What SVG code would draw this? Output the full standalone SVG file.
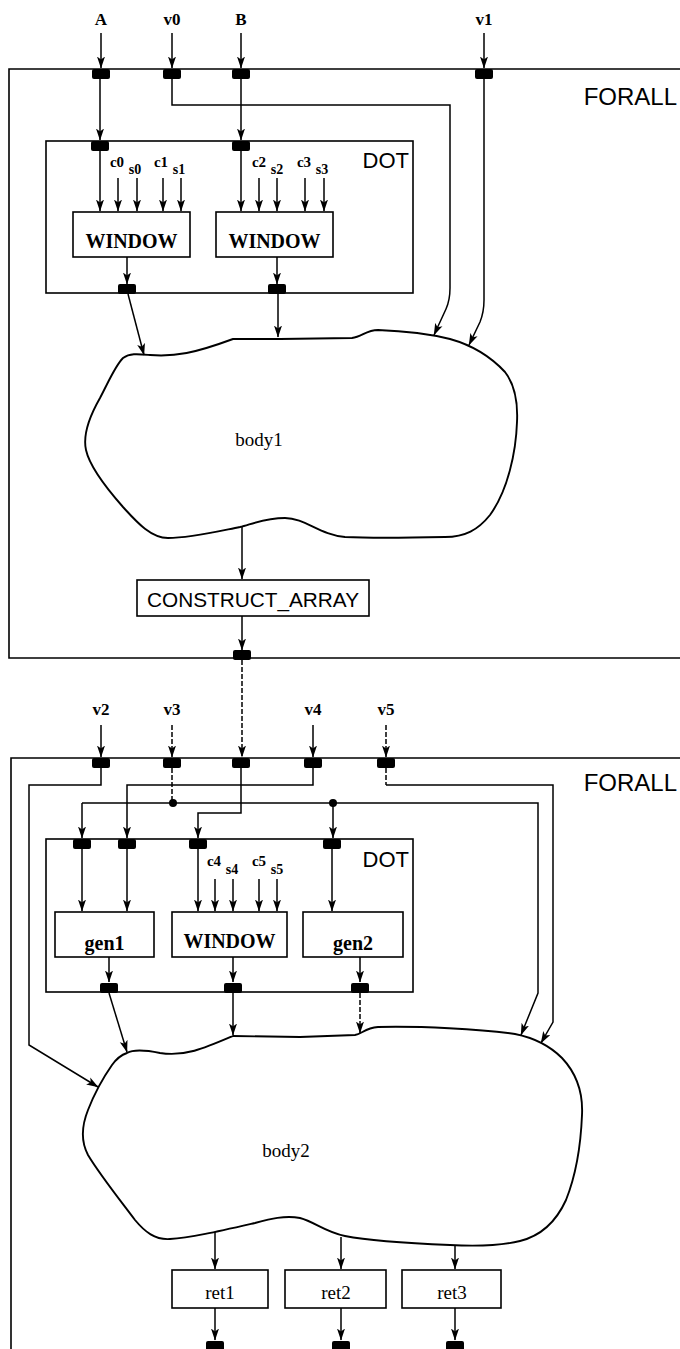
<svg xmlns="http://www.w3.org/2000/svg" width="680" height="1349" viewBox="0 0 680 1349">
<defs>
<marker id="ah" markerWidth="12" markerHeight="9" refX="11.5" refY="4.5" orient="auto" markerUnits="userSpaceOnUse">
<path d="M0,0.5 L12,4.5 L0,8.5 L3,4.5 Z" fill="#000"/>
</marker>
</defs>
<style>
.box{fill:#fff;stroke:#000;stroke-width:1.6}
.frame{fill:none;stroke:#000;stroke-width:1.6}
.port{fill:#000}
.c{fill:none;stroke:#000;stroke-width:1.5}
.a{marker-end:url(#ah)}
.d{stroke-dasharray:5 2}
.blob{fill:#fff;stroke:#000;stroke-width:1.9}
.kw{font-family:"Liberation Sans",Arial,sans-serif;fill:#000}
.in{font-family:"Liberation Serif","Times New Roman",serif;font-weight:bold;font-size:17px;text-anchor:middle}
.sm{font-family:"Liberation Serif","Times New Roman",serif;font-weight:bold;font-size:15px;text-anchor:middle}
.sub{font-family:"Liberation Serif","Times New Roman",serif;font-weight:bold;font-size:14px;text-anchor:middle}
.bt{font-family:"Liberation Serif","Times New Roman",serif;font-weight:bold;font-size:20px;text-anchor:middle}
.rt{font-family:"Liberation Serif","Times New Roman",serif;font-size:19px;text-anchor:middle}
</style>

<g id="forall1">
<path class="frame" d="M690,69 H9 V658 H690"/>
<text class="kw" x="677" y="105" font-size="24" text-anchor="end">FORALL</text>
<rect class="port" x="92" y="69" width="18" height="10" rx="2"/>
<rect class="port" x="163" y="69" width="18" height="10" rx="2"/>
<rect class="port" x="232" y="69" width="18" height="10" rx="2"/>
<rect class="port" x="475" y="69" width="18" height="10" rx="2"/>
<rect class="port" x="233" y="650" width="18" height="10" rx="2"/>
</g>

<g id="inputs1">
<text class="in" x="101" y="25">A</text>
<text class="in" x="172" y="25">v0</text>
<text class="in" x="241" y="25">B</text>
<text class="in" x="484" y="25">v1</text>
</g>

<g id="dot1">
<rect class="box" x="46" y="141" width="367" height="152"/>
<text class="kw" x="409" y="168" font-size="22" text-anchor="end">DOT</text>
<rect class="port" x="91" y="141" width="18" height="10" rx="2"/>
<rect class="port" x="232" y="141" width="18" height="10" rx="2"/>
<rect class="port" x="118" y="284" width="18" height="10" rx="2"/>
<rect class="port" x="268" y="284" width="18" height="10" rx="2"/>
<text class="sm" x="117" y="167">c0</text>
<text class="sub" x="135" y="174">s0</text>
<text class="sm" x="161" y="167">c1</text>
<text class="sub" x="179" y="174">s1</text>
<text class="sm" x="259" y="167">c2</text>
<text class="sub" x="277" y="174">s2</text>
<text class="sm" x="304" y="167">c3</text>
<text class="sub" x="322" y="174">s3</text>
</g>

<g id="window1">
<rect class="box" x="73" y="212" width="117" height="45"/>
<text class="bt" x="131.5" y="248">WINDOW</text>
</g>
<g id="window2">
<rect class="box" x="216" y="212" width="117" height="45"/>
<text class="bt" x="274.5" y="248">WINDOW</text>
</g>

<g id="body1">
<path class="blob" d="M123,358 C130,353 138,354 150,355 C175,357 195,353 233,339 L280,339 L352,338 C362,337 366,330 378,330 C405,331 430,334 450,339 C475,346 492,358 505,372 C515,385 518,402 517,422 C516,452 508,490 490,515 C478,530 465,537 445,537 C400,538 365,538 345,537 C320,535 305,518 285,518 C265,518 252,524 240,527 C215,532 190,538 168,538 C150,538 135,520 123,507 C108,490 90,468 86,450 C82,432 92,412 100,398 C108,383 115,366 123,358 Z"/>
<text class="rt" x="259" y="446">body1</text>
</g>

<g id="construct_array">
<rect class="box" x="137" y="580" width="232" height="36"/>
<text class="kw" x="253" y="607" font-size="20" text-anchor="middle" textLength="212" lengthAdjust="spacingAndGlyphs">CONSTRUCT_ARRAY</text>
</g>

<g id="forall2">
<path class="frame" d="M690,758 H11 V1360"/>
<text class="kw" x="677" y="791" font-size="24" text-anchor="end">FORALL</text>
<rect class="port" x="92" y="758" width="18" height="10" rx="2"/>
<rect class="port" x="163" y="758" width="18" height="10" rx="2"/>
<rect class="port" x="232" y="758" width="18" height="10" rx="2"/>
<rect class="port" x="304" y="758" width="18" height="10" rx="2"/>
<rect class="port" x="377" y="758" width="18" height="10" rx="2"/>
<rect class="port" x="206" y="1341" width="18" height="10" rx="2"/>
<rect class="port" x="332" y="1341" width="18" height="10" rx="2"/>
<rect class="port" x="446" y="1341" width="18" height="10" rx="2"/>
</g>

<g id="inputs2">
<text class="in" x="101" y="715">v2</text>
<text class="in" x="172" y="715">v3</text>
<text class="in" x="313" y="715">v4</text>
<text class="in" x="386" y="715">v5</text>
</g>

<g id="dot2">
<rect class="box" x="46" y="839" width="367" height="153"/>
<text class="kw" x="409" y="867" font-size="22" text-anchor="end">DOT</text>
<rect class="port" x="73" y="839" width="18" height="10" rx="2"/>
<rect class="port" x="118" y="839" width="18" height="10" rx="2"/>
<rect class="port" x="189" y="839" width="18" height="10" rx="2"/>
<rect class="port" x="323" y="839" width="18" height="10" rx="2"/>
<rect class="port" x="100" y="983" width="18" height="10" rx="2"/>
<rect class="port" x="224" y="983" width="18" height="10" rx="2"/>
<rect class="port" x="351" y="983" width="18" height="10" rx="2"/>
<text class="sm" x="214" y="866">c4</text>
<text class="sub" x="232" y="874">s4</text>
<text class="sm" x="259" y="866">c5</text>
<text class="sub" x="277" y="874">s5</text>
</g>

<g id="gen1">
<rect class="box" x="55" y="912" width="99" height="45"/>
<text class="bt" x="104.5" y="950">gen1</text>
</g>
<g id="window3">
<rect class="box" x="172" y="912" width="115" height="45"/>
<text class="bt" x="229.5" y="948">WINDOW</text>
</g>
<g id="gen2">
<rect class="box" x="303" y="912" width="100" height="45"/>
<text class="bt" x="353" y="950">gen2</text>
</g>

<g id="body2">
<path class="blob" d="M127,1053 C134,1049 145,1050 160,1053 C185,1057 205,1048 233,1036 L300,1037 L355,1035 C362,1034 365,1028 378,1027 C420,1026 480,1029 515,1034 C535,1038 550,1046 562,1058 C578,1075 583,1095 582,1115 C581,1140 578,1170 566,1200 C556,1222 540,1236 520,1241 C500,1246 470,1246 450,1245 C400,1243 365,1240 345,1236 C325,1232 315,1222 300,1218 C285,1215 270,1219 255,1223 C220,1231 190,1238 170,1239 C155,1240 145,1232 135,1220 C120,1200 100,1175 88,1155 C80,1140 82,1125 88,1110 C95,1092 105,1075 112,1065 C117,1058 121,1055 127,1053 Z"/>
<text class="rt" x="286" y="1157">body2</text>
</g>

<g id="ret1">
<rect class="box" x="172" y="1270" width="96" height="38"/>
<text class="rt" x="220" y="1299">ret1</text>
</g>
<g id="ret2">
<rect class="box" x="285" y="1270" width="101" height="38"/>
<text class="rt" x="336" y="1299">ret2</text>
</g>
<g id="ret3">
<rect class="box" x="402" y="1270" width="99" height="38"/>
<text class="rt" x="452" y="1299">ret3</text>
</g>

<g id="connectors">
<path class="c a" d="M101,33 V68"/>
<path class="c a" d="M172,33 V68"/>
<path class="c a" d="M241,33 V68"/>
<path class="c a" d="M484,33 V68"/>
<path class="c a" d="M100,79 V140"/>
<path class="c a" d="M241,79 V140"/>
<path class="c a" d="M172,79 V105 H450 V288 Q450,300 446,309 L434,335"/>
<path class="c a" d="M484,79 V300 Q484,312 480,322 L469,345"/>
<path class="c a" d="M100,151 V211"/>
<path class="c a" d="M118,178 V211"/>
<path class="c a" d="M137,178 V211"/>
<path class="c a" d="M163,178 V211"/>
<path class="c a" d="M181,178 V211"/>
<path class="c a" d="M241,151 V211"/>
<path class="c a" d="M259,178 V211"/>
<path class="c a" d="M277,178 V211"/>
<path class="c a" d="M305,178 V211"/>
<path class="c a" d="M324,178 V211"/>
<path class="c a" d="M127,257 V284"/>
<path class="c a" d="M277,257 V284"/>
<path class="c a" d="M128,294 L144,355"/>
<path class="c a" d="M278,294 V337"/>
<path class="c a" d="M242,527 V579"/>
<path class="c a" d="M242,616 V650"/>
<path class="c a d" d="M242,660 V757"/>
<path class="c a" d="M101,725 V757"/>
<path class="c a d" d="M172,725 V757"/>
<path class="c a" d="M313,725 V757"/>
<path class="c a d" d="M386,725 V757"/>
<path class="c a" d="M101,768 V785 H29 V1045 L98,1087"/>
<path class="c d" d="M172,768 V803"/>
<path class="c a" d="M241,768 V813 H198 V838"/>
<path class="c a" d="M313,768 V785 H127 V838"/>
<path class="c a" d="M82,803 V838"/>
<path class="c a" d="M82,803 H538 V993 L521,1035"/>
<path class="c a" d="M333,803 V838"/>
<path class="c d" d="M386,768 V785"/>
<path class="c a" d="M386,785 H553 V1022 L541,1043"/>
<circle cx="173" cy="803" r="4" fill="#000"/>
<circle cx="333" cy="803" r="4" fill="#000"/>
<path class="c a" d="M82,849 V911"/>
<path class="c a" d="M127,849 V911"/>
<path class="c a" d="M198,849 V911"/>
<path class="c a" d="M215,879 V911"/>
<path class="c a" d="M233,879 V911"/>
<path class="c a" d="M259,879 V911"/>
<path class="c a" d="M277,879 V911"/>
<path class="c a" d="M332,849 V911"/>
<path class="c a" d="M109,957 V982"/>
<path class="c a" d="M233,957 V982"/>
<path class="c a" d="M360,957 V982"/>
<path class="c a" d="M109,993 L127,1052"/>
<path class="c a" d="M233,993 V1035"/>
<path class="c a d" d="M360,993 V1033"/>
<path class="c a" d="M215,1232 V1269"/>
<path class="c a" d="M341,1237 V1269"/>
<path class="c a" d="M455,1245 V1269"/>
<path class="c a" d="M215,1308 V1340"/>
<path class="c a" d="M341,1308 V1340"/>
<path class="c a" d="M455,1308 V1340"/>
</g>
</svg>
